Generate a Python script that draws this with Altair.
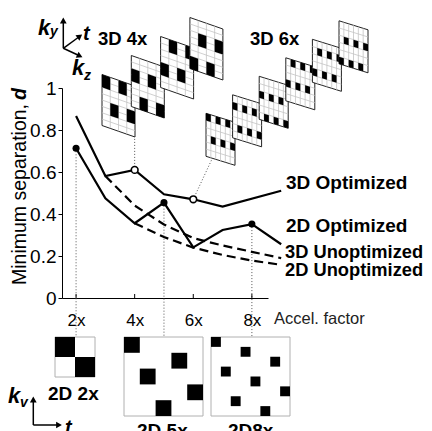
import altair as alt
import pandas as pd

# ------------------------------------------------------------------
# data
# ------------------------------------------------------------------
accel_3d_opt = [2, 3, 4, 5, 6, 7, 9]
d_3d_opt = [0.867, 0.581, 0.610, 0.494, 0.470, 0.435, 0.511]
accel_2d_opt = [2, 3, 4, 5, 6, 7, 8, 9]
d_2d_opt = [0.713, 0.475, 0.356, 0.454, 0.241, 0.324, 0.352, 0.256]
accel_3d_unopt = [3, 4, 5, 6, 7, 8, 9]
d_3d_unopt = [0.581, 0.440, 0.350, 0.285, 0.250, 0.220, 0.190]
accel_2d_unopt = [4, 5, 6, 7, 8, 9]
d_2d_unopt = [0.356, 0.290, 0.240, 0.205, 0.178, 0.158]

series_names = ["3D Optimized", "2D Optimized", "3D Unoptimized", "2D Unoptimized"]
x_ticks = [2, 4, 6, 8]
y_ticks = [0, 0.2, 0.4, 0.6, 0.8, 1]
x_title = "Accel. factor"
y_title = "Minimum separation,"
y_title_var = "d"

open_marks_3d = [4, 6]        # 3D optimized points illustrated above
filled_marks_2d = [2, 5, 8]   # 2D optimized points illustrated below

pattern_2d_names = ["2D 2x", "2D 5x", "2D8x"]
pattern_2d = [
    ["X.", ".X"],
    ["X....", "...X.", ".X...", "....X", "..X.."],
    ["X.......", "...X....", "......X.", ".X......",
     "....X...", ".......X", "..X.....", ".....X.."],
]
stack_names = ["3D 4x", "3D 6x"]
stack_4x = [
    ["X.X.", "....", ".X.X", "...."],
    ["....", "X.X.", "....", ".X.X"],
    [".X.X", "....", "X.X.", "...."],
    ["....", ".X.X", "....", "X.X."],
]
stack_6x = [
    ["X.X.X.", "......", "......", ".X.X.X", "......", "......"],
    ["......", "X.X.X.", "......", "......", ".X.X.X", "......"],
    ["......", "......", "X.X.X.", "......", "......", ".X.X.X"],
    [".X.X.X", "......", "......", "X.X.X.", "......", "......"],
    ["......", ".X.X.X", "......", "......", "X.X.X.", "......"],
    ["......", "......", ".X.X.X", "......", "......", "X.X.X."],
]

# ------------------------------------------------------------------
# layout (page pixels) and styles
# ------------------------------------------------------------------
PLOT_W, PLOT_H = 206, 210
X_DOMAIN = [1.52, 8.55]
Y_DOMAIN = [0.0, 1.0]
LEFT, TOP = 62, 88
SVG_W, SVG_H = 416, 423
FONT = "Liberation Sans"


def ux(px):
    return X_DOMAIN[0] + (px - LEFT) * (X_DOMAIN[1] - X_DOMAIN[0]) / PLOT_W


def uy(py):
    return Y_DOMAIN[1] - (py - TOP) * (Y_DOMAIN[1] - Y_DOMAIN[0]) / PLOT_H


SX = alt.Scale(domain=X_DOMAIN, nice=False, zero=False)
SY = alt.Scale(domain=Y_DOMAIN, nice=False, zero=False)

X_AXIS = alt.Axis(values=x_ticks, labelExpr="datum.value + 'x'", ticks=True, tickSize=0,
                  labelFont=FONT, labelFontSize=17, labelColor="black",
                  labelBaseline="alphabetic", labelPadding=27,
                  domainColor="black", domainWidth=1, grid=False, title=None)
Y_AXIS = alt.Axis(values=y_ticks, format="~g", tickSize=4, tickColor="black", tickWidth=1,
                  labelFont="Liberation Sans Narrow, Liberation Sans", labelFontSize=19,
                  labelColor="black", labelPadding=2,
                  domainColor="black", domainWidth=1, grid=False, title=None)


def xe(field="x"):
    return alt.X(f"{field}:Q", scale=SX, axis=X_AXIS)


def ye(field="y"):
    return alt.Y(f"{field}:Q", scale=SY, axis=Y_AXIS)


layers = []

# ---- dotted guide lines from highlighted points to illustrations ----
guide_px_end = {2: (None, 337), 5: (None, 337), 8: (None, 337), 4: (None, 137), 6: (212, 159)}
g_rows = []
for xv in filled_marks_2d:
    yv = d_2d_opt[accel_2d_opt.index(xv)]
    g_rows.append(dict(x=xv, y=yv, x2=xv, y2=uy(guide_px_end[xv][1])))
for xv in open_marks_3d:
    yv = d_3d_opt[accel_3d_opt.index(xv)]
    ex, ey = guide_px_end[xv]
    g_rows.append(dict(x=xv, y=yv, x2=(xv if ex is None else ux(ex)), y2=uy(ey)))
layers.append(
    alt.Chart(pd.DataFrame(g_rows)).mark_rule(color="#555", strokeWidth=1, strokeDash=[1, 2])
    .encode(x=xe(), y=ye(), x2="x2:Q", y2="y2:Q")
)

# ---- main series ----
rows = []
for name, xs, ys in [(series_names[0], accel_3d_opt, d_3d_opt),
                     (series_names[1], accel_2d_opt, d_2d_opt),
                     (series_names[2], accel_3d_unopt, d_3d_unopt),
                     (series_names[3], accel_2d_unopt, d_2d_unopt)]:
    for a, b in zip(xs, ys):
        rows.append(dict(series=name, x=a, y=b))
main = pd.DataFrame(rows)

layers.append(
    alt.Chart(main).transform_filter(alt.FieldOneOfPredicate(field="series", oneOf=series_names[2:]))
    .mark_line(color="black", strokeWidth=2.2, strokeDash=[9, 5])
    .encode(x=xe(), y=ye(), detail="series:N")
)
layers.append(
    alt.Chart(main).transform_filter(alt.FieldOneOfPredicate(field="series", oneOf=series_names[:2]))
    .mark_line(color="black", strokeWidth=2.2)
    .encode(x=xe(), y=ye(), detail="series:N")
)

# inward x ticks
layers.append(
    alt.Chart(pd.DataFrame(dict(x=x_ticks, y=[0] * 4, y2=[uy(294)] * 4)))
    .mark_rule(color="black", strokeWidth=1)
    .encode(x=xe(), y=ye(), y2="y2:Q")
)

# highlighted points
open_df = pd.DataFrame(dict(x=open_marks_3d, y=[d_3d_opt[accel_3d_opt.index(v)] for v in open_marks_3d]))
fill_df = pd.DataFrame(dict(x=filled_marks_2d, y=[d_2d_opt[accel_2d_opt.index(v)] for v in filled_marks_2d]))
layers.append(
    alt.Chart(open_df).mark_point(shape="circle", filled=True, fill="white", stroke="black",
                                  strokeWidth=1.6, size=45, opacity=1)
    .encode(x=xe(), y=ye())
)
layers.append(
    alt.Chart(fill_df).mark_circle(color="black", size=50, opacity=1).encode(x=xe(), y=ye())
)

# ---- series labels ----
label_px = [(286, 189, 19), (286, 232, 19), (285, 258, 18.3), (285, 276, 18.3)]
lab_df = pd.DataFrame(dict(text=series_names, x=[ux(p[0]) for p in label_px],
                           y=[uy(p[1]) for p in label_px], s=[p[2] for p in label_px]))
layers.append(
    alt.Chart(lab_df).mark_text(font=FONT, fontWeight="bold", align="left",
                                baseline="alphabetic", color="black")
    .encode(x=xe(), y=ye(), text="text:N", size=alt.Size("s:Q", scale=None))
)

# ---- axis titles ----
layers.append(
    alt.Chart(pd.DataFrame(dict(text=[x_title], x=[ux(274)], y=[uy(323.5)])))
    .mark_text(font=FONT, fontSize=16.5, align="left", baseline="alphabetic", color="#222")
    .encode(x=xe(), y=ye(), text="text:N")
)
layers.append(
    alt.Chart(pd.DataFrame(dict(text=[y_title], x=[ux(26)], y=[uy(104)])))
    .mark_text(font=FONT, fontSize=19.5, angle=270, align="right", baseline="alphabetic", color="black")
    .encode(x=xe(), y=ye(), text="text:N")
)
layers.append(
    alt.Chart(pd.DataFrame(dict(text=[y_title_var], x=[ux(26)], y=[uy(88)])))
    .mark_text(font=FONT, fontSize=19.5, angle=270, align="right", baseline="alphabetic",
               fontWeight="bold", fontStyle="italic", color="black")
    .encode(x=xe(), y=ye(), text="text:N")
)

# ---- 2D sampling tiles ----
tile_px = [(55, 337, 40), (124, 337, 79), (211, 337, 79)]
tile_label_px = [(48, 400), (137, 437), (228, 437)]
bg_rows, cell_rows = [], []
for (l, t, s), pat in zip(tile_px, pattern_2d):
    n = len(pat)
    cs = s / n
    bg_rows.append(dict(x=ux(l), x2=ux(l + s), y=uy(t), y2=uy(t + s)))
    for r, line in enumerate(pat):
        for c, ch in enumerate(line):
            if ch == "X":
                cell_rows.append(dict(x=ux(l + c * cs), x2=ux(l + (c + 1) * cs),
                                      y=uy(t + r * cs), y2=uy(t + (r + 1) * cs)))
layers.append(
    alt.Chart(pd.DataFrame(bg_rows)).mark_rect(fill="white", stroke="#b0b0b0", strokeWidth=1)
    .encode(x=xe(), x2="x2:Q", y=ye(), y2="y2:Q")
)
layers.append(
    alt.Chart(pd.DataFrame(cell_rows)).mark_rect(fill="black")
    .encode(x=xe(), x2="x2:Q", y=ye(), y2="y2:Q")
)
layers.append(
    alt.Chart(pd.DataFrame(dict(text=pattern_2d_names, x=[ux(p[0]) for p in tile_label_px],
                                y=[uy(p[1]) for p in tile_label_px])))
    .mark_text(font=FONT, fontSize=19, fontWeight="bold", align="left", baseline="alphabetic", color="black")
    .encode(x=xe(), y=ye(), text="text:N")
)

# ---- 3D sampling stacks (sheared panels) ----
stack_geo = [
    dict(x0=102, y0=74.5, dx=29.3, dy=-19.0, w=33, h=51, shear=11.5, sub=2, pats=stack_4x),
    dict(x0=206, y0=113.3, dx=26.6, dy=-18.5, w=29, h=43, shear=9.0, sub=1, pats=stack_6x),
]
stack_label_px = [(98, 45), (250, 45)]
for g in stack_geo:
    for k, pat in enumerate(g["pats"]):
        px0 = g["x0"] + k * g["dx"]
        py0 = g["y0"] + k * g["dy"]
        w, h, sh = g["w"], g["h"], g["shear"]
        nr, nc = len(pat), len(pat[0])
        cw, chh = w / nc, h / nr

        def top(px, r, px0=px0, py0=py0, w=w, sh=sh, chh=chh):
            return py0 + (px - px0) * sh / w + r * chh

        bg = pd.DataFrame([
            dict(x=ux(px0), y=uy(top(px0, 0)), y2=uy(top(px0, nr))),
            dict(x=ux(px0 + w), y=uy(top(px0 + w, 0)), y2=uy(top(px0 + w, nr))),
        ])
        layers.append(
            alt.Chart(bg).mark_area(orient="vertical", fill="white", stroke="#222", strokeWidth=1, opacity=1)
            .encode(x=xe(), y=ye(), y2="y2:Q")
        )
        gl = []
        for c in range(1, nc):
            xx = px0 + c * cw
            gl.append(dict(x=ux(xx), y=uy(top(xx, 0)), x2=ux(xx), y2=uy(top(xx, nr))))
        nsub = nr * g["sub"]
        for r in range(1, nsub):
            rr = r / g["sub"]
            gl.append(dict(x=ux(px0), y=uy(top(px0, rr)), x2=ux(px0 + w), y2=uy(top(px0 + w, rr))))
        layers.append(
            alt.Chart(pd.DataFrame(gl)).mark_rule(color="#c4c4c4", strokeWidth=0.8)
            .encode(x=xe(), y=ye(), x2="x2:Q", y2="y2:Q")
        )
        cells = []
        cid = 0
        for r, line in enumerate(pat):
            for c, chx in enumerate(line):
                if chx == "X":
                    xa, xb = px0 + c * cw, px0 + (c + 1) * cw
                    cells.append(dict(id=cid, x=ux(xa), y=uy(top(xa, r)), y2=uy(top(xa, r + 1))))
                    cells.append(dict(id=cid, x=ux(xb), y=uy(top(xb, r)), y2=uy(top(xb, r + 1))))
                    cid += 1
        layers.append(
            alt.Chart(pd.DataFrame(cells)).mark_area(orient="vertical", fill="black", opacity=1)
            .encode(x=xe(), y=ye(), y2="y2:Q", detail="id:N")
        )

layers.append(
    alt.Chart(pd.DataFrame(dict(text=stack_names, x=[ux(p[0]) for p in stack_label_px],
                                y=[uy(p[1]) for p in stack_label_px])))
    .mark_text(font=FONT, fontSize=18.5, fontWeight="bold", align="left", baseline="alphabetic", color="black")
    .encode(x=xe(), y=ye(), text="text:N")
)

# ---- coordinate-axis glyphs ----
arrow_px = [  # x1, y1, x2, y2, head angle
    (63.3, 48.3, 63.3, 21, 0),
    (63.3, 48.3, 79.5, 36.5, 54),
    (63.3, 48.3, 79.5, 55.8, 115),
    (33.3, 425, 33.3, 400, 0),
    (33.3, 425, 58.5, 425, 90),
]
head_px = [(63.3, 20.5), (79.8, 36.3), (79.8, 55.9), (33.3, 399.5), (59, 425)]
layers.append(
    alt.Chart(pd.DataFrame([dict(x=ux(a[0]), y=uy(a[1]), x2=ux(a[2]), y2=uy(a[3])) for a in arrow_px]))
    .mark_rule(color="black", strokeWidth=1.5)
    .encode(x=xe(), y=ye(), x2="x2:Q", y2="y2:Q")
)
layers.append(
    alt.Chart(pd.DataFrame([dict(x=ux(h[0]), y=uy(h[1]), a=a[4]) for h, a in zip(head_px, arrow_px)]))
    .mark_point(shape="triangle-up", filled=True, color="black", size=45, opacity=1)
    .encode(x=xe(), y=ye(), angle=alt.Angle("a:Q", scale=None))
)
glyph_text = [  # text, x, baseline y, size
    ("k", 38, 35, 22), ("y", 50, 36, 14), ("t", 83, 40, 20),
    ("k", 72, 75, 22), ("z", 84, 80, 14),
    ("k", 8, 403, 22), ("v", 20, 407, 14), ("t", 65, 434, 20),
]
layers.append(
    alt.Chart(pd.DataFrame([dict(text=t[0], x=ux(t[1]), y=uy(t[2]), s=t[3]) for t in glyph_text]))
    .mark_text(font=FONT, fontWeight="bold", fontStyle="italic", align="left", baseline="alphabetic", color="black")
    .encode(x=xe(), y=ye(), text="text:N", size=alt.Size("s:Q", scale=None))
)

chart = alt.layer(*layers).properties(
    width=PLOT_W, height=PLOT_H,
    autosize=alt.AutoSizeParams(type="none"),
    padding={"left": LEFT - 8, "top": TOP - 8,
             "right": SVG_W - (LEFT - 8) - PLOT_W, "bottom": SVG_H - (TOP - 8) - PLOT_H},
    background="white",
).configure_view(stroke=None)

chart.save("out.html", embed_options={"renderer": "svg", "actions": False})
